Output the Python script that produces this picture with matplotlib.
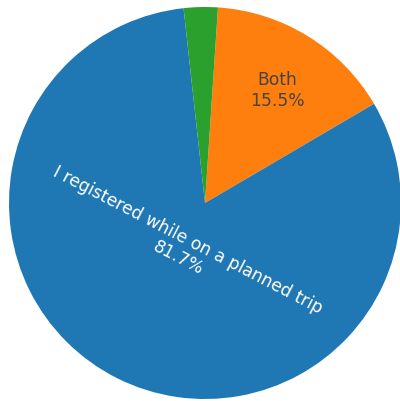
import numpy as np
import matplotlib.pyplot as plt

labels = ["Both", "I registered while on a planned trip", "Neither"]
values = [15.5, 81.7, 2.8]
colors = ["#ff7f0e", "#1f77b4", "#2ca02c"]

fig = plt.figure(figsize=(4, 4.01), dpi=100)
ax = fig.add_axes([0, 0, 1, 1])

r_px = 196.0
cx, cy = 205.0, 203.0
ax.axis("off")

wedges, _ = ax.pie(values, colors=colors, startangle=86.2, counterclock=False,
                   radius=1.0, wedgeprops=dict(linewidth=0))
ax.set_aspect("auto")
ax.set_xlim(-cx / r_px, (400 - cx) / r_px)
ax.set_ylim(-(401 - cy) / r_px, cy / r_px)

pct = ["%.1f%%" % v for v in values]
ax.text(0.37, 0.575, labels[0] + "\n" + pct[0], ha="center", va="center",
        fontsize=12.3, color="#444444", linespacing=1.2)
ax.text(-0.11, -0.235, labels[1] + "\n" + pct[1], ha="center", va="center",
        fontsize=12.3, color="white", rotation=-27.4, rotation_mode="anchor",
        linespacing=1.2)
# outside label, clipped by the top edge as in the source
ax.text(0.0, 1.004, pct[2], transform=fig.transFigure, ha="left", va="bottom",
        fontsize=12.3, color="#444444")

fig.savefig("out.png", dpi=100)
